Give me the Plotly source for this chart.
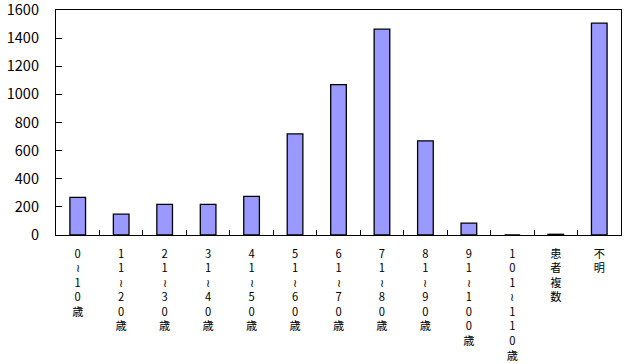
import plotly.graph_objects as go

categories = ["0≀10歳", "11≀20歳", "21≀30歳", "31≀40歳", "41≀50歳", "51≀60歳",
              "61≀70歳", "71≀80歳", "81≀90歳", "91≀100歳", "101≀110歳", "患者複数", "不明"]
values = [268, 148, 218, 218, 275, 719, 1070, 1464, 670, 85, 0, 5, 1506]
y_ticks = [0, 200, 400, 600, 800, 1000, 1200, 1400, 1600]

def vertical(s):
    return "<br>".join(list(s))

tick_text = [vertical(c) for c in categories]

fig = go.Figure(go.Bar(
    x=categories, y=values,
    marker=dict(color="#9999FF", line=dict(color="black", width=1.3)),
    width=0.36,
))

fig.update_layout(
    width=624, height=364,
    margin=dict(l=56, r=3, t=10, b=129, autoexpand=False),
    paper_bgcolor="white", plot_bgcolor="white",
    showlegend=False,
    font=dict(family="Noto Sans CJK JP", color="black"),
)
fig.update_xaxes(
    tickmode="array", tickvals=categories, ticktext=tick_text,
    tickfont=dict(size=11.2), ticks="inside", ticklen=5, tickcolor="black",
    tickson="boundaries", ticklabelstandoff=8, automargin=False,
    showline=True, linecolor="black", linewidth=1.3, mirror=True,
    showgrid=False, tickangle=0,
)
fig.update_yaxes(
    range=[0, 1600], tickvals=y_ticks, ticks="inside", ticklen=6, tickcolor="black",
    tickfont=dict(size=14.5), ticklabeloverflow="allow", automargin=False,
    showline=True, linecolor="black", linewidth=1.3, mirror=True,
    showgrid=False, zeroline=False, ticklabelstandoff=13,
)

fig.write_html("out.html")
